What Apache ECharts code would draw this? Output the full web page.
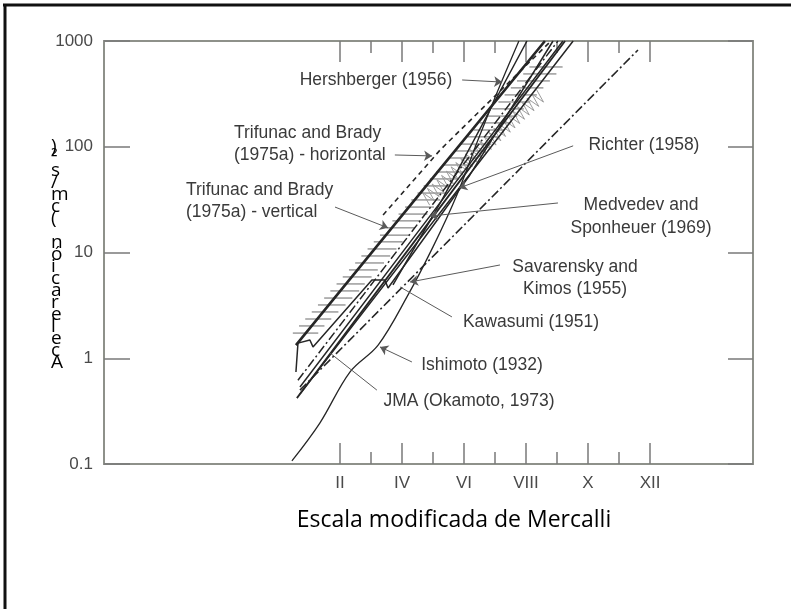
<!DOCTYPE html>
<html><head><meta charset="utf-8">
<script src="https://cdn.jsdelivr.net/npm/echarts@6/dist/echarts.min.js"></script>
<style>html,body{margin:0;padding:0;background:#fff}#c{width:791px;height:609px}</style>
</head><body><div id="c"></div>
<script>
// ---- axis data ----
const intensityMajor = [2, 4, 6, 8, 10, 12];
const intensityMinor = [3, 5, 7, 9, 11];
const romanLabels = {2: 'II', 4: 'IV', 6: 'VI', 8: 'VIII', 10: 'X', 12: 'XII'};
const accTickLabels = {'0.1': '0.1', '1': '1', '10': '10', '100': '100', '1000': '1000'};

// ---- curves: [MMI intensity, acceleration cm/s2] ----
const ishimoto = [[0.45,0.107],[1.35,0.244],[2.32,0.741],[3.23,1.33],[4.16,3.80],[5.0,11.3],[5.77,35],[6.45,116],[7.10,344],[7.77,1000]];
const hershberger = [[3.71,4.93],[5.29,31.4],[8.03,1000]];
const richter = [[0.71,0.46],[5.87,41.6],[9.52,1000]];
const medvedev = [[0.71,0.535],[4.90,22.1],[9.19,1000]];
const trifunacMean = [[0.58,1.33],[4.90,47],[8.61,1000]];
const jma = [[0.58,0.741],[0.645,1.39],[1.03,1.49],[1.13,1.28],[3.03,5.50],[3.45,5.50],[3.55,4.61],[6.19,54.1],[8.87,1000]];
const savarensky = [[0.71,0.50],[6.10,19.4],[11.61,822]];
const trifunacHorizDashed = [[3.39,22.6],[5.23,93.2],[8.77,978]];
const extraDashDot = [[0.645,0.62],[4.90,26.3],[9.03,1000]];
const extraSolid = [[0.61,0.42],[4.90,19.9],[9.26,1000]];
const zigzagBand = [[4.74,31.4,8.55,322]];

// horizontal hatching band (Trifunac & Brady vertical)
const hatchAcc = [1.73,2.02,2.35,2.74,3.19,3.71,4.33,5.04,5.87,6.84,7.96,9.27,10.8,12.6,14.6,17.1,19.9,23.1,26.9,31.4,36.5,42.6,49.6,57.7,67.2,78.3,91.2,106,124,144,168,195,228,265,309,360,419,488,568];
const hatchLeft = [0.48,0.68,0.88,1.09,1.29,1.49,1.69,1.89,2.09,2.29,2.49,2.69,2.89,3.09,3.29,3.49,3.69,3.89,4.10,4.30,4.50,4.70,4.90,5.10,5.30,5.50,5.70,5.90,6.11,6.31,6.51,6.71,6.91,7.11,7.31,7.51,7.71,7.91,8.11];
const hatchRight = [1.30,1.50,1.72,1.95,2.18,2.40,2.62,2.80,3.02,3.22,3.42,3.62,3.82,4.02,4.22,4.42,4.62,4.82,5.03,5.23,5.43,5.63,5.83,6.03,6.25,6.46,6.67,6.88,7.09,7.30,7.51,7.72,7.93,8.14,8.35,8.56,8.77,8.98,9.18];

// leader lines: [from, to] in [intensity, acc]
const leaders = [
  {from:[5.94,428], to:[7.23,409], arrow:true},
  {from:[3.77,83.6], to:[4.97,81.9], arrow:true},
  {from:[1.84,26.9], to:[3.55,17.1], arrow:true},
  {from:[9.52,102], to:[5.84,40.7], arrow:true},
  {from:[9.03,29.4], to:[4.90,22.1], arrow:true},
  {from:[7.16,7.62], to:[4.26,5.26], arrow:true},
  {from:[5.61,2.46], to:[3.94,4.72], arrow:false},
  {from:[4.32,0.922], to:[3.29,1.28], arrow:true},
  {from:[3.19,0.50], to:[1.68,1.12], arrow:false}
];

const xMin = -5.61, xMax = 15.32;
const frameColor = '#8e918a';
const tickColor = '#7a7a7a';
const inkColor = '#262626';
const textFont = '"Liberation Sans", Arial, sans-serif';

const chart = echarts.init(document.getElementById('c'), null, {renderer: 'canvas'});

function xAx(position, values, len, labels) {
  return {
    type: 'value', position: position, min: xMin, max: xMax,
    axisLine: {show: true, onZero: false, lineStyle: {color: frameColor, width: 2}},
    axisTick: {show: true, inside: true, length: len, customValues: values, lineStyle: {color: tickColor, width: 1.5}},
    axisLabel: labels ? {show: true, customValues: values, formatter: v => romanLabels[v] || '', color: '#4a4a4a',
      fontFamily: textFont, fontSize: 17, margin: 11} : {show: false},
    splitLine: {show: false}
  };
}

function lineSeries(name, data, style, extra) {
  return Object.assign({
    name: name, type: 'line', data: data, showSymbol: false, symbol: 'none', silent: true,
    xAxisIndex: 0, yAxisIndex: 0, z: 3,
    lineStyle: Object.assign({color: inkColor, width: 1.4}, style)
  }, extra || {});
}

const ylabel = 'Aceleración (cm/s²)'.split('').reverse().join('\n');

const option = {
  animation: false,
  backgroundColor: '#fff',
  grid: {left: 104, right: 38, top: 41, bottom: 145, containLabel: false},
  xAxis: [
    xAx('bottom', intensityMajor, 21, true),
    xAx('bottom', intensityMinor, 12, false),
    xAx('top', intensityMajor, 21, false),
    xAx('top', intensityMinor, 12, false)
  ],
  yAxis: [
    {type: 'log', logBase: 10, min: 0.1, max: 1000, position: 'left',
      axisLine: {show: true, onZero: false, lineStyle: {color: frameColor, width: 2}},
      axisTick: {show: true, inside: true, length: 26, lineStyle: {color: tickColor, width: 1.5}},
      axisLabel: {show: true, color: '#4a4a4a', fontFamily: textFont, fontSize: 17, margin: 11,
        formatter: v => accTickLabels[String(+v.toPrecision(3))] || String(+v.toPrecision(3))},
      splitLine: {show: false}},
    {type: 'log', logBase: 10, min: 0.1, max: 1000, position: 'right',
      axisLine: {show: true, onZero: false, lineStyle: {color: frameColor, width: 2}},
      axisTick: {show: true, inside: true, length: 25, lineStyle: {color: tickColor, width: 1.5}},
      axisLabel: {show: false}, splitLine: {show: false}}
  ],
  series: [
    {
      type: 'custom', name: 'hatch', silent: true, xAxisIndex: 0, yAxisIndex: 0, z: 1,
      data: hatchAcc.map((a, i) => [hatchLeft[i], hatchRight[i], a]),
      encode: {x: [0, 1], y: 2},
      renderItem: function (params, api) {
        const p1 = api.coord([api.value(0), api.value(2)]);
        const p2 = api.coord([api.value(1), api.value(2)]);
        return {type: 'line', shape: {x1: p1[0], y1: p1[1], x2: p2[0], y2: p2[1]},
          style: {stroke: '#6a6a6a', lineWidth: 1}};
      }
    },
    {
      type: 'custom', name: 'T&B horizontal band', silent: true, xAxisIndex: 0, yAxisIndex: 0, z: 2,
      data: zigzagBand, encode: {x: [0, 2], y: [1, 3]},
      renderItem: function (params, api) {
        const a = api.coord([api.value(0), api.value(1)]);
        const b = api.coord([api.value(2), api.value(3)]);
        const dx = b[0] - a[0], dy = b[1] - a[1];
        const len = Math.sqrt(dx * dx + dy * dy);
        const ux = dx / len, uy = dy / len, nx = -uy, ny = ux;
        const pts = [];
        const step = 3.2, half = 7;
        let k = 0;
        for (let s = 0; s <= len; s += step, k++) {
          const o = (k % 2 === 0 ? half : -half);
          pts.push([a[0] + ux * s + nx * o, a[1] + uy * s + ny * o]);
        }
        return {type: 'polyline', shape: {points: pts}, style: {stroke: '#9c9c9c', lineWidth: 1, fill: null}};
      }
    },
    lineSeries('Ishimoto (1932)', ishimoto, {width: 1.3}, {smooth: 0.35,
      markLine: {
        silent: true, symbol: ['none', 'arrow'], symbolSize: 8, animation: false,
        label: {show: false},
        lineStyle: {color: '#5a5a5a', width: 1, type: 'solid'},
        data: leaders.map(l => [
          {coord: l.from, symbol: 'none'},
          {coord: l.to, symbol: l.arrow ? 'arrow' : 'none'}
        ])
      }}),
    lineSeries('Hershberger (1956)', hershberger, {width: 1.5}),
    lineSeries('Richter (1958)', richter, {width: 1.5}),
    lineSeries('Medvedev and Sponheuer (1969)', medvedev, {width: 1.5}),
    lineSeries('Trifunac and Brady mean', trifunacMean, {width: 2.6}),
    lineSeries('JMA (Okamoto, 1973)', jma, {width: 1.5}),
    lineSeries('Savarensky and Kirnos (1955)', savarensky, {width: 1.6, type: [9, 3, 2, 3]}),
    lineSeries('Trifunac and Brady (1975a) - horizontal', trifunacHorizDashed, {width: 1.6, type: [5, 4]}),
    lineSeries('extra dash-dot', extraDashDot, {width: 1.5, type: [9, 3, 2, 3]}),
    lineSeries('extra solid', extraSolid, {width: 1.8})
  ],
  graphic: [
    {type: 'line', silent: true, shape: {x1: 3, y1: 5, x2: 791, y2: 5}, style: {stroke: '#111', lineWidth: 3}},
    {type: 'line', silent: true, shape: {x1: 5, y1: 4, x2: 5, y2: 609}, style: {stroke: '#111', lineWidth: 3}},
    {type: 'text', silent: true, left: 51, top: 137, style: {text: ylabel, font: '19px "Open Sans", sans-serif',
      lineHeight: 12, fill: '#000', align: 'left'}},
    {type: 'text', silent: true, x: 454, y: 520, style: {text: 'Escala modificada de Mercalli', font: '23px "Open Sans", sans-serif',
      fill: '#000', align: 'center', verticalAlign: 'middle'}},
    {type: 'text', silent: true, x: 376, y: 80, style: {text: 'Hershberger (1956)', font: '17.5px ' + textFont, fill: '#3a3a3a', align: 'center', verticalAlign: 'middle'}},
    {type: 'text', silent: true, x: 234, y: 144, style: {text: 'Trifunac and Brady\n(1975a) - horizontal', font: '17.5px ' + textFont, lineHeight: 22, fill: '#3a3a3a', align: 'left', verticalAlign: 'middle'}},
    {type: 'text', silent: true, x: 186, y: 201.5, style: {text: 'Trifunac and Brady\n(1975a) - vertical', font: '17.5px ' + textFont, lineHeight: 22, fill: '#3a3a3a', align: 'left', verticalAlign: 'middle'}},
    {type: 'text', silent: true, x: 644, y: 145, style: {text: 'Richter (1958)', font: '17.5px ' + textFont, fill: '#3a3a3a', align: 'center', verticalAlign: 'middle'}},
    {type: 'text', silent: true, x: 641, y: 216.5, style: {text: 'Medvedev and\nSponheuer (1969)', font: '17.5px ' + textFont, lineHeight: 23, fill: '#3a3a3a', align: 'center', verticalAlign: 'middle'}},
    {type: 'text', silent: true, x: 575, y: 278, style: {text: 'Savarensky and\nKimos (1955)', font: '17.5px ' + textFont, lineHeight: 22, fill: '#3a3a3a', align: 'center', verticalAlign: 'middle'}},
    {type: 'text', silent: true, x: 531, y: 322, style: {text: 'Kawasumi (1951)', font: '17.5px ' + textFont, fill: '#3a3a3a', align: 'center', verticalAlign: 'middle'}},
    {type: 'text', silent: true, x: 482, y: 365, style: {text: 'Ishimoto (1932)', font: '17.5px ' + textFont, fill: '#3a3a3a', align: 'center', verticalAlign: 'middle'}},
    {type: 'text', silent: true, x: 469, y: 401, style: {text: 'JMA (Okamoto, 1973)', font: '17.5px ' + textFont, fill: '#3a3a3a', align: 'center', verticalAlign: 'middle'}}
  ]
};
chart.setOption(option);
</script>
</body></html>
